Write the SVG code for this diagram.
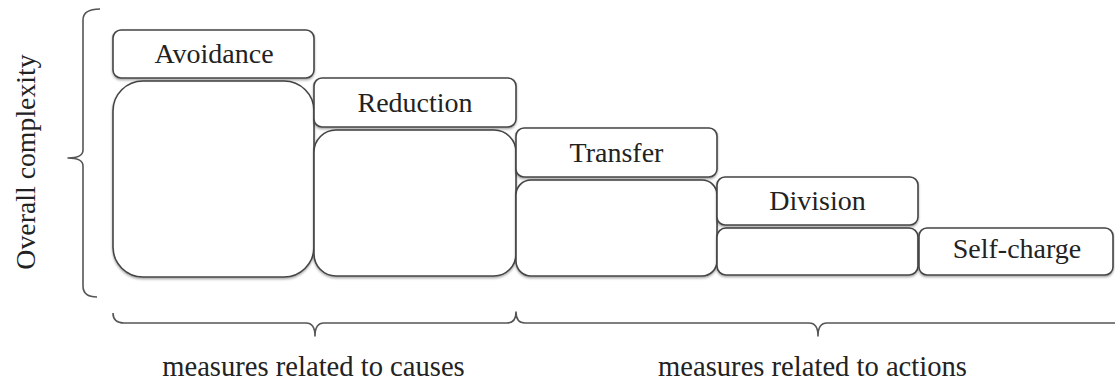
<svg xmlns="http://www.w3.org/2000/svg" width="1115" height="383" viewBox="0 0 1115 383">
  <style>
    .box { fill: #ffffff; stroke: #454545; stroke-width: 1.6; filter: url(#shadow); }
    .lbl { font-family: "Liberation Serif", "Times New Roman", serif; font-size: 28px; fill: #222222; text-anchor: middle; }
    .cap { font-family: "Liberation Serif", "Times New Roman", serif; font-size: 28.6px; fill: #222222; text-anchor: middle; }
    .brace { fill: none; stroke: #555555; stroke-width: 1.6; stroke-linejoin: round; }
    .axis { font-family: "Liberation Serif", "Times New Roman", serif; font-size: 27.8px; fill: #222222; text-anchor: middle; }
  </style>
  <defs>
    <filter id="shadow" x="-5%" y="-5%" width="110%" height="115%">
      <feDropShadow dx="0" dy="1.5" stdDeviation="0.8" flood-color="#000000" flood-opacity="0.35"/>
    </filter>
  </defs>
  <rect width="1115" height="383" fill="#ffffff"/>

  <!-- vertical axis label -->
  <text class="axis" transform="translate(35,162) rotate(-90)">Overall complexity</text>

  <!-- braces -->
  <g id="connectors">
    <path class="brace" d="M 100 9 Q 83 9 83 20 L 83 150 Q 83 158 68 158 Q 83 158 83 166 L 83 286 Q 83 297 97 297"/>
    <path class="brace" d="M 113 313 Q 113 323 124 323 L 306 323 Q 315 323 315 336 Q 315 323 324 323 L 507 323 Q 516 323 516 312 Q 516 323 525 323 L 809 323 Q 818 323 818 336 Q 818 323 827 323 L 1116 323"/>
  </g>

  <!-- Avoidance -->
  <g id="avoidance">
    <rect class="box" x="113" y="81" width="201" height="196" rx="30" ry="30"/>
    <rect class="box" x="113" y="30" width="201" height="48" rx="8" ry="8"/>
    <text class="lbl" x="214" y="63">Avoidance</text>
  </g>

  <!-- Reduction -->
  <g id="reduction">
    <rect class="box" x="314" y="130" width="202" height="146" rx="22" ry="22"/>
    <rect class="box" x="314" y="78" width="202" height="49" rx="8" ry="8"/>
    <text class="lbl" x="415" y="112">Reduction</text>
  </g>

  <!-- Transfer -->
  <g id="transfer">
    <rect class="box" x="516" y="180" width="201" height="96" rx="15" ry="15"/>
    <rect class="box" x="516" y="128" width="201" height="49" rx="8" ry="8"/>
    <text class="lbl" x="616.5" y="162">Transfer</text>
  </g>

  <!-- Division -->
  <g id="division">
    <rect class="box" x="717" y="228" width="201" height="47" rx="9" ry="9"/>
    <rect class="box" x="717" y="177" width="201" height="48" rx="8" ry="8"/>
    <text class="lbl" x="817.5" y="210">Division</text>
  </g>

  <!-- Self-charge -->
  <g id="self-charge">
    <rect class="box" x="919" y="228" width="194" height="47" rx="8" ry="8"/>
    <text class="lbl" x="1017" y="258">Self-charge</text>
  </g>

  <!-- group captions -->
  <text class="cap" x="313.5" y="376">measures related to causes</text>
  <text class="cap" x="812.5" y="376">measures related to actions</text>
</svg>
